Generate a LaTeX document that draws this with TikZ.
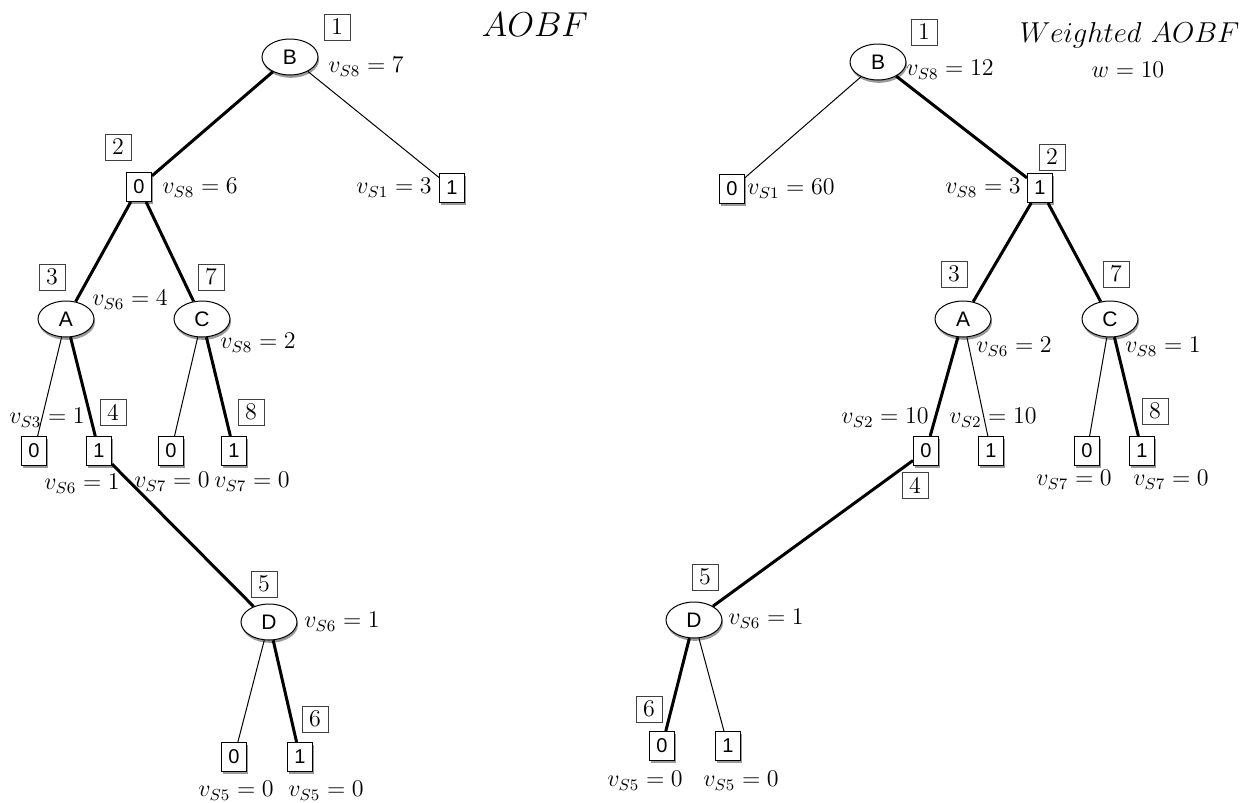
\documentclass[tikz,border=0pt]{standalone}
\usepackage{fontspec}
\newfontfamily\hv{Liberation Sans}
\usetikzlibrary{shapes.geometric,shadows}
\tikzset{
  shd/.style={drop shadow={shadow xshift=0.5pt, shadow yshift=-1.4pt, opacity=0.4, fill=black}},
  var/.style={ellipse, draw, fill=white, line width=0.5pt, minimum width=28pt, minimum height=18pt, inner sep=0pt, font=\hv\fontsize{10.5}{12}\selectfont, shd},
  leaf/.style={rectangle, draw, fill=white, line width=0.5pt, minimum width=12.5pt, minimum height=14.5pt, inner sep=0pt, font=\hv\fontsize{10}{12}\selectfont, shd},
  ord/.style={rectangle, draw=black!75, line width=0.4pt, minimum size=13pt, inner sep=0pt, font=\fontsize{12}{14}\selectfont},
  lab/.style={inner sep=0pt, font=\fontsize{12}{14}\selectfont},
  ttl/.style={inner sep=0pt, font=\fontsize{16}{19}\selectfont},
  thk/.style={line width=1.5pt},
  thn/.style={line width=0.5pt},
}
\begin{document}
\begin{tikzpicture}[x=0.5pt, y=-0.5pt]
\useasboundingbox (0,0) rectangle (1242,803);
% ---------------- left tree: AOBF ----------------
\node[ttl] (ttlL) at (535,25) {$AOBF$};
\node[var] (lB) at (290,57) {B};
\node[leaf] (l0) at (139,187) {0};
\node[leaf] (l1) at (452,188) {1};
\node[var] (lA) at (66,319) {A};
\node[var] (lC) at (202,319) {C};
\node[leaf] (lA0) at (34,451) {0};
\node[leaf] (lA1) at (99,451) {1};
\node[leaf] (lC0) at (171,451) {0};
\node[leaf] (lC1) at (234,451) {1};
\node[var] (lD) at (269,622) {D};
\node[leaf] (lD0) at (234,757) {0};
\node[leaf] (lD1) at (300,757) {1};
\draw[thk] (lB) -- (l0);
\draw[thn] (lB) -- (l1);
\draw[thk] (l0) -- (lA);
\draw[thk] (l0) -- (lC);
\draw[thn] (lA) -- (lA0);
\draw[thk] (lA) -- (lA1);
\draw[thn] (lC) -- (lC0);
\draw[thk] (lC) -- (lC1);
\draw[thk] (lA1) -- (lD);
\draw[thn] (lD) -- (lD0);
\draw[thk] (lD) -- (lD1);
\node[ord] (ln1) at (337,27) {1};
\node[ord] (ln2) at (118,147) {2};
\node[ord] (ln3) at (52,277) {3};
\node[ord] (ln7) at (211,277) {7};
\node[ord] (ln4) at (113,412) {4};
\node[ord] (ln8) at (251,412) {8};
\node[ord] (ln5) at (264,584) {5};
\node[ord] (ln6) at (315,719) {6};
\node[lab] (lvB) at (366,67) {$v_{S8}=7$};
\node[lab] (lv0) at (200,188) {$v_{S8}=6$};
\node[lab] (lv1) at (394,188) {$v_{S1}=3$};
\node[lab] (lvA) at (130,300) {$v_{S6}=4$};
\node[lab] (lvC) at (258,343) {$v_{S8}=2$};
\node[lab] (lvA0) at (47,418) {$v_{S3}=1$};
\node[lab] (lvA1) at (82,484) {$v_{S6}=1$};
\node[lab] (lvC0) at (172,482) {$v_{S7}=0$};
\node[lab] (lvC1) at (252,482) {$v_{S7}=0$};
\node[lab] (lvD) at (342,622) {$v_{S6}=1$};
\node[lab] (lvD0) at (236,791) {$v_{S5}=0$};
\node[lab] (lvD1) at (326,791) {$v_{S5}=0$};
% ---------------- right tree: Weighted AOBF ----------------
\node[ttl, anchor=east, font=\fontsize{14.4}{17}\selectfont] (ttlR) at (1240,35) {$Weighted\ AOBF$};
\node[lab] (wR) at (1128,70) {$w=10$};
\node[var] (rB) at (878,62) {B};
\node[leaf] (r0) at (732,189) {0};
\node[leaf] (r1) at (1040,188) {1};
\node[var] (rA) at (963,319) {A};
\node[var] (rC) at (1110,319) {C};
\node[leaf] (rA0) at (926,451) {0};
\node[leaf] (rA1) at (991,451) {1};
\node[leaf] (rC0) at (1087,451) {0};
\node[leaf] (rC1) at (1142,451) {1};
\node[var] (rD) at (694,620) {D};
\node[leaf] (rD0) at (662,746) {0};
\node[leaf] (rD1) at (728,746) {1};
\draw[thn] (rB) -- (r0);
\draw[thk] (rB) -- (r1);
\draw[thk] (r1) -- (rA);
\draw[thk] (r1) -- (rC);
\draw[thk] (rA) -- (rA0);
\draw[thn] (rA) -- (rA1);
\draw[thn] (rC) -- (rC0);
\draw[thk] (rC) -- (rC1);
\draw[thk] (rA0) -- (rD);
\draw[thk] (rD) -- (rD0);
\draw[thn] (rD) -- (rD1);
\node[ord] (rn1) at (924,32) {1};
\node[ord] (rn2) at (1052,157) {2};
\node[ord] (rn3) at (954,274) {3};
\node[ord] (rn7) at (1116,274) {7};
\node[ord] (rn8) at (1155,411) {8};
\node[ord] (rn4) at (915,485) {4};
\node[ord] (rn5) at (705,577) {5};
\node[ord] (rn6) at (649,709) {6};
\node[lab] (rvB) at (950,70) {$v_{S8}=12$};
\node[lab] (rv0) at (791,189) {$v_{S1}=60$};
\node[lab] (rv1) at (983,188) {$v_{S8}=3$};
\node[lab] (rvA) at (1014,347) {$v_{S6}=2$};
\node[lab] (rvC) at (1163,347) {$v_{S8}=1$};
\node[lab] (rvA0) at (885,418) {$v_{S2}=10$};
\node[lab] (rvA1) at (993,418) {$v_{S2}=10$};
\node[lab] (rvC0) at (1074,480) {$v_{S7}=0$};
\node[lab] (rvC1) at (1171,480) {$v_{S7}=0$};
\node[lab] (rvD) at (766,619) {$v_{S6}=1$};
\node[lab] (rvD0) at (645,781) {$v_{S5}=0$};
\node[lab] (rvD1) at (741,781) {$v_{S5}=0$};
\end{tikzpicture}
\end{document}
